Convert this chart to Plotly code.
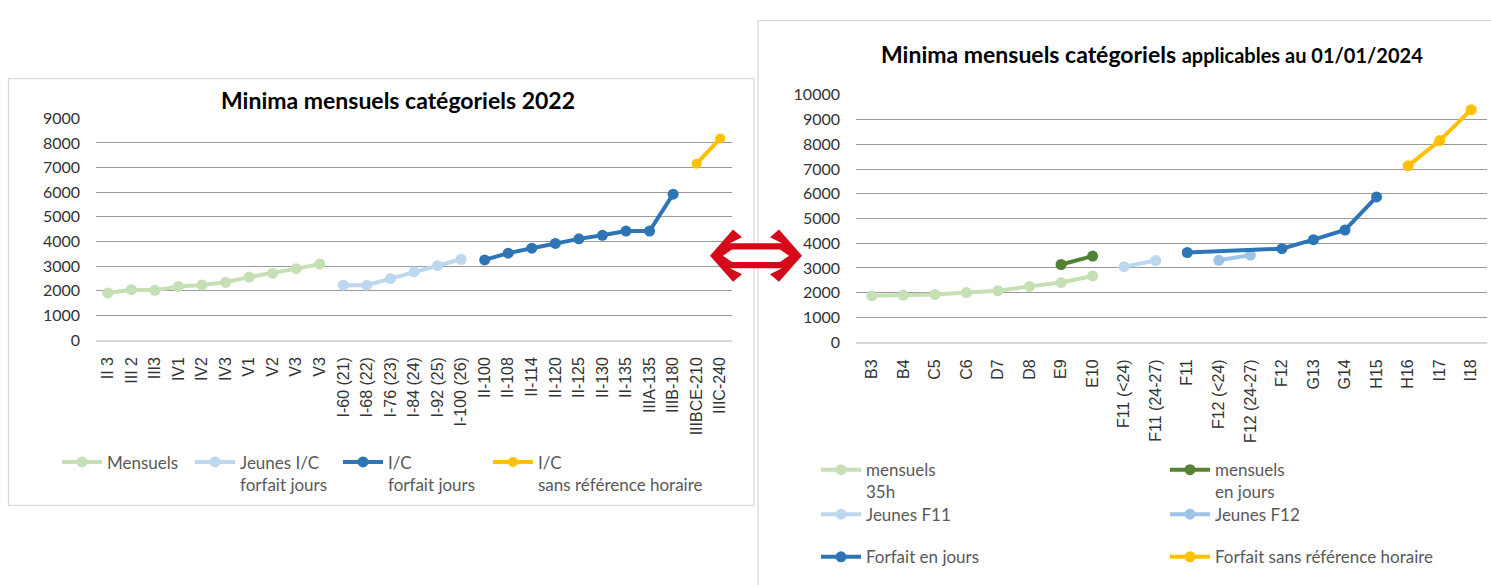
import plotly.graph_objects as go

# ---------------- DATA ----------------
cats_2022 = ["II 3", "III 2", "III3", "IV1", "IV2", "IV3", "V1", "V2", "V3", "V3",
             "I-60 (21)", "I-68 (22)", "I-76 (23)", "I-84 (24)", "I-92 (25)", "I-100 (26)",
             "II-100", "II-108", "II-114", "II-120", "II-125", "II-130", "II-135",
             "IIIA-135", "IIIB-180", "IIIBCE-210", "IIIC-240"]
N = None
mensuels_2022 = [1910, 2040, 2015, 2170, 2235, 2340, 2555, 2710, 2895, 3080] + [N] * 17
jeunes_ic_2022 = [N] * 10 + [2225, 2225, 2490, 2765, 3015, 3275] + [N] * 11
ic_forfait_2022 = [N] * 16 + [3250, 3525, 3725, 3920, 4105, 4250, 4420, 4420, 5920] + [N] * 2
ic_sans_ref_2022 = [N] * 25 + [7160, 8185]

cats_2024 = ["B3", "B4", "C5", "C6", "D7", "D8", "E9", "E10", "F11 (<24)", "F11 (24-27)",
             "F11", "F12 (<24)", "F12 (24-27)", "F12", "G13", "G14", "H15", "H16", "I17", "I18"]
mensuels_35h_2024 = [1875, 1905, 1930, 2005, 2075, 2255, 2410, 2675] + [N] * 12
mensuels_jours_2024 = [N] * 6 + [3140, 3480] + [N] * 12
jeunes_f11_2024 = [N] * 8 + [3050, 3300] + [N] * 10
jeunes_f12_2024 = [N] * 11 + [3310, 3520] + [N] * 7
forfait_jours_2024 = [N] * 10 + [3625, N, N, 3780, 4145, 4535, 5870] + [N] * 3
forfait_sans_ref_2024 = [N] * 17 + [7130, 8150, 9400]

# ---------------- LAYOUT HELPERS ----------------
W, H = 1491, 585
def px(x):
    return x / W
def py(y):
    return 1 - y / H

GREEN_L = "#C5E0B4"
GREEN_D = "#548235"
BLUE_L = "#BDD7EE"
BLUE_M = "#9DC3E6"
BLUE = "#2E75B6"
YELLOW = "#FFC000"

fig = go.Figure()

def add_series(x, y, name, color, xa, ya, legend, connect=False, msize=11):
    fig.add_trace(go.Scatter(
        x=x, y=y, name=name, mode="lines+markers",
        line=dict(color=color, width=4),
        marker=dict(color=color, size=msize),
        connectgaps=connect, xaxis=xa, yaxis=ya, legend=legend,
        hoverinfo="x+y",
    ))

x22 = list(range(len(cats_2022)))
x24 = list(range(len(cats_2024)))

add_series(x22, mensuels_2022, "Mensuels", GREEN_L, "x", "y", "legend")
add_series(x22, jeunes_ic_2022, "Jeunes I/C<br>forfait jours", BLUE_L, "x", "y", "legend2")
add_series(x22, ic_forfait_2022, "I/C<br>forfait jours", BLUE, "x", "y", "legend3")
add_series(x22, ic_sans_ref_2022, "I/C<br>sans référence horaire", YELLOW, "x", "y", "legend4", msize=10)

add_series(x24, mensuels_35h_2024, "mensuels<br>35h", GREEN_L, "x2", "y2", "legend5")
add_series(x24, mensuels_jours_2024, "mensuels<br>en jours", GREEN_D, "x2", "y2", "legend6")
add_series(x24, jeunes_f11_2024, "Jeunes F11", BLUE_L, "x2", "y2", "legend7")
add_series(x24, jeunes_f12_2024, "Jeunes F12", BLUE_M, "x2", "y2", "legend8")
add_series(x24, forfait_jours_2024, "Forfait en jours", BLUE, "x2", "y2", "legend9", connect=True)
add_series(x24, forfait_sans_ref_2024, "Forfait sans référence horaire", YELLOW, "x2", "y2", "legend10")

TICK_X = dict(family="Liberation Sans, Arial", size=16, color="#333333")
TICK_Y = dict(family="Lato", size=16, color="#333333")
GRID = "#9a9a9a"

common_x = dict(tickmode="array", tickangle=-90, tickfont=TICK_X, showgrid=False,
                zeroline=False, showline=True, linecolor="#D9D9D9", linewidth=1.5,
                ticks="", ticklabelstandoff=9, fixedrange=True)
common_y = dict(tickfont=TICK_Y, showgrid=True, gridcolor=GRID, gridwidth=1.2,
                zeroline=False, showline=False, ticks="", ticklabelstandoff=15,
                tickformat="d", fixedrange=True)

legend_font = dict(family="Lato", size=17, color="#595959")
def legend_at(text_x, line_y):
    return dict(x=px(text_x - 50), y=py(line_y - 12), xanchor="left", yanchor="top",
                font=legend_font, bgcolor="rgba(0,0,0,0)", valign="top", itemwidth=40,
                itemclick=False, itemdoubleclick=False, tracegroupgap=0)

# ------- borders and arrow (decoration) -------
shapes = [
    dict(type="rect", xref="paper", yref="paper", x0=px(8.5), x1=px(754), y0=py(512), y1=py(71),
         line=dict(color="#D9D9D9", width=1.2), fillcolor="rgba(0,0,0,0)", layer="below"),
    dict(type="rect", xref="paper", yref="paper", x0=px(758), x1=px(1520), y0=py(620), y1=py(11),
         line=dict(color="#D9D9D9", width=1.2), fillcolor="rgba(0,0,0,0)", layer="below"),
]
outer = [(710, 254), (733, 227), (742, 235), (730, 241), (782, 241), (770, 235), (779, 227),
         (802, 254), (779, 281), (770, 273), (782, 267), (730, 267), (742, 273), (733, 281)]
inner = [(723, 254), (732, 247.5), (780, 247.5), (789, 254), (780, 260.5), (732, 260.5)]
def path_of(pts):
    return "M " + " L ".join(f"{px(a):.5f},{py(b):.5f}" for a, b in pts) + " Z"
shapes.append(dict(type="path", xref="paper", yref="paper", path=path_of(outer),
                   fillcolor="#D40A1A", line=dict(width=0), layer="above"))
shapes.append(dict(type="path", xref="paper", yref="paper", path=path_of(inner),
                   fillcolor="white", line=dict(width=0), layer="above"))

annotations = [
    dict(text="<b>Minima mensuels catégoriels 2022</b>", xref="paper", yref="paper",
         x=px(398), y=py(93), xanchor="center", yanchor="middle", showarrow=False,
         font=dict(family="Lato", size=23, color="#000000")),
    dict(text="<b>Minima mensuels catégoriels <span style='font-size:20px'>applicables au 01/01/2024</span></b>",
         xref="paper", yref="paper",
         x=px(1152), y=py(45), xanchor="center", yanchor="middle", showarrow=False,
         font=dict(family="Lato", size=23, color="#000000")),
]

fig.update_layout(
    width=W, height=H, margin=dict(l=0, r=0, t=0, b=0),
    paper_bgcolor="white", plot_bgcolor="white",
    showlegend=True,
    xaxis=dict(domain=[px(96), px(732)], range=[-0.5, len(cats_2022) - 0.5],
               tickvals=x22, ticktext=cats_2022, anchor="y", **common_x),
    yaxis=dict(domain=[py(341), py(112)], range=[0, 9000], dtick=1000, anchor="x", **common_y),
    xaxis2=dict(domain=[px(856), px(1487)], range=[-0.5, len(cats_2024) - 0.5],
                tickvals=x24, ticktext=cats_2024, anchor="y2", **common_x),
    yaxis2=dict(domain=[py(343.3), py(87.7)], range=[0, 10000], dtick=1000, anchor="x2", **common_y),
    legend=legend_at(107, 461),
    legend2=legend_at(240, 461),
    legend3=legend_at(388, 461),
    legend4=legend_at(538, 461),
    legend5=legend_at(866, 469),
    legend6=legend_at(1215, 469),
    legend7=legend_at(866, 515),
    legend8=legend_at(1215, 515),
    legend9=legend_at(866, 559),
    legend10=legend_at(1215, 559),
    shapes=shapes,
    annotations=annotations,
)

fig.write_html("out.html", config={"displayModeBar": False},
               post_script="document.body.style.margin='0px';document.body.style.overflow='hidden';")
